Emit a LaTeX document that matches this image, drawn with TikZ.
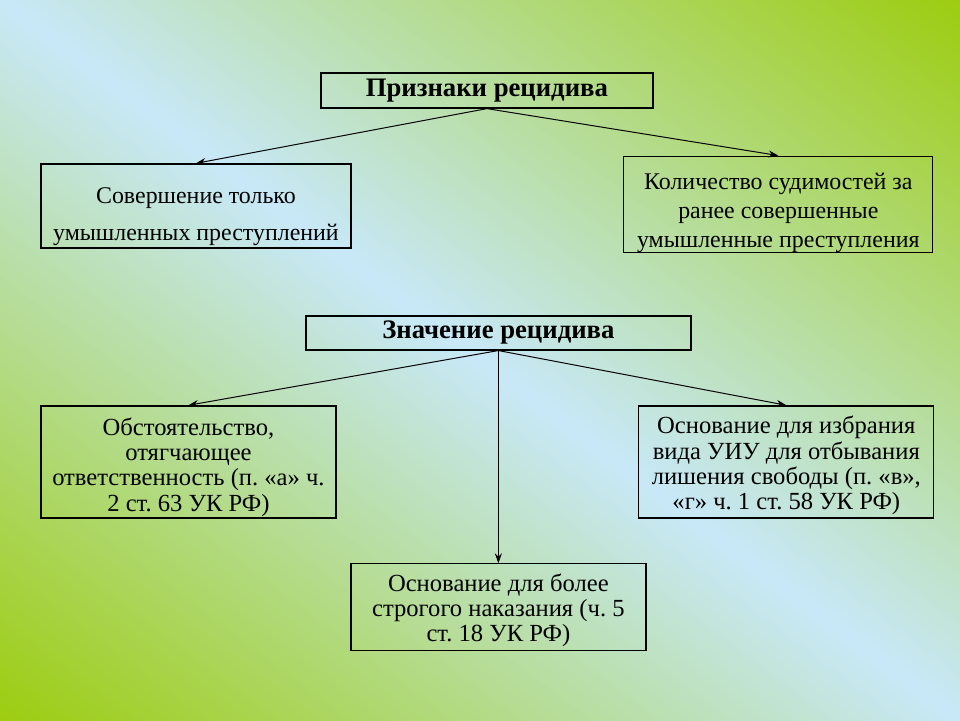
\documentclass[tikz,border=0pt]{standalone}
\usepackage{fontspec}
\setmainfont{Liberation Serif}
\usetikzlibrary{arrows.meta}
\frenchspacing

\definecolor{bggreen}{RGB}{156,204,10}
\definecolor{bgblue}{RGB}{200,232,248}
\pgfdeclareverticalshading{slidebg}{100bp}{color(0bp)=(bggreen); color(14bp)=(bggreen); color(50bp)=(bgblue); color(86bp)=(bggreen); color(100bp)=(bggreen)}

\begin{document}
\begin{tikzpicture}[
        x=0.025cm, y=-0.025cm,
        box/.style={draw, line width=0.9pt, inner sep=0pt, align=center,
            font=\fontsize{17}{20.5}\selectfont},
        small/.style={box, font=\fontsize{17.5}{18}\selectfont},
        head/.style={box, font=\fontsize{19}{22}\selectfont\bfseries},
        arr/.style={-{Stealth[length=7pt,width=5pt]}, line width=0.7pt}
    ]

    % background
    \shade[shading=slidebg, shading angle=-36.87] (0cm,0cm) rectangle (24cm,-18cm);

    % signs
    \node[head, minimum width=8.3cm, minimum height=0.875cm] (signs) at (487,90.5) {Признаки рецидива};
    \node[box, minimum width=7.75cm, minimum height=2.1cm] (intent) at (196,206)
        {\rule{0pt}{26pt}Совершение только\\[6pt] умышленных преступлений};
    \node[box, minimum width=7.725cm, minimum height=2.375cm] (count) at (778.5,204.5)
        {\rule{0pt}{24pt}Количество судимостей за\\ ранее совершенные\\ умышленные преступления};

    % meaning
    \node[head, minimum width=9.625cm, minimum height=0.85cm] (meaning) at (498.5,333) {Значение рецидива};
    \node[small, minimum width=7.375cm, minimum height=2.8cm] (aggr) at (188.5,462)
        {\rule{0pt}{20pt}Обстоятельство,\\ отягчающее\\ ответственность (п. «а» ч.\\ 2 ст. 63 УК РФ)};
    \node[small, minimum width=7.375cm, minimum height=2.8cm] (colony) at (786.5,462)
        {\rule{0pt}{18pt}Основание для избрания\\ вида УИУ для отбывания\\ лишения свободы (п. «в»,\\ «г» ч. 1 ст. 58 УК РФ)};
    \node[small, minimum width=7.375cm, minimum height=2.175cm] (strict) at (498.5,607.5)
        {\rule{0pt}{17pt}Основание для более\\ строгого наказания (ч. 5\\ ст. 18 УК РФ)};

    \draw[arr] (signs.south) -- (intent.north);
    \draw[arr] (signs.south) -- (count.north);
    \draw[arr] (meaning.south) -- (aggr.north);
    \draw[arr] (meaning.south) -- (colony.north);
    \draw[arr] (meaning.south) -- (strict.north);
\end{tikzpicture}
\end{document}
